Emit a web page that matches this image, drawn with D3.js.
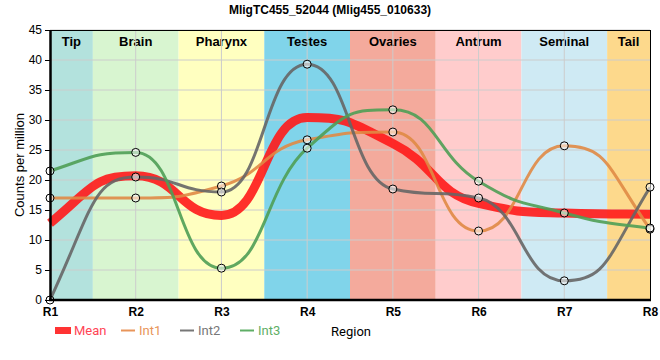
<!DOCTYPE html>
<html><head><meta charset="utf-8">
<script src="https://d3js.org/d3.v7.min.js"></script>
<style>body{margin:0;background:#fff}svg{display:block;font-family:"Liberation Sans",Arial,sans-serif}</style>
</head><body>
<svg id="c" width="660" height="360"></svg>
<script>
const categories = ["R1","R2","R3","R4","R5","R6","R7","R8"];
const regions = ["Tip","Brain","Pharynx","Testes","Ovaries","Antrum","Seminal","Tail"];
const regionColors = ["#b3e2dd","#d8f5d0","#ffffc0","#80d4ea","#f4aa9c","#ffcccc","#cfeaf4","#fdd98c"];
const meanValues = [12.8, 20.7, 14.1, 30.4, 26.1, 16.1, 14.5, 14.3];
const int1Values = [17.0, 17.0, 19.0, 26.7, 28.0, 11.5, 25.7, 11.8];
const int2Values = [0.0, 20.5, 18.0, 39.3, 18.5, 17.0, 3.2, 18.8];
const int3Values = [21.5, 24.6, 5.3, 25.3, 31.7, 19.8, 14.5, 12.0];
const yTicks = [0,5,10,15,20,25,30,35,40,45];

// monotone curve with longer bezier handles (sigmoid-like transitions)
function sgn(v){return v<0?-1:1;}
function MonoLong(context){this._context=context;}
function slope3(that,x2,y2){
  const h0=that._x1-that._x0,h1=x2-that._x1,
    s0=(that._y1-that._y0)/h0, s1=(y2-that._y1)/h1,
    p=(s0*h1+s1*h0)/(h0+h1);
  return (sgn(s0)+sgn(s1))*Math.min(Math.abs(s0),Math.abs(s1),0.5*Math.abs(p))||0;
}
function slope2(that,t){const h=that._x1-that._x0;return h?(3*(that._y1-that._y0)/h-t)/2:t;}
function seg(that,t0,t1){
  const x0=that._x0,y0=that._y0,x1=that._x1,y1=that._y1,dx=(x1-x0)*0.5;
  that._context.bezierCurveTo(x0+dx,y0+dx*t0,x1-dx,y1-dx*t1,x1,y1);
}
MonoLong.prototype={
  areaStart(){this._line=0;},areaEnd(){this._line=NaN;},
  lineStart(){this._x0=this._x1=this._y0=this._y1=this._t0=NaN;this._point=0;},
  lineEnd(){
    switch(this._point){
      case 2:this._context.lineTo(this._x1,this._y1);break;
      case 3:seg(this,this._t0,slope2(this,this._t0));break;
    }
  },
  point(x,y){
    let t1=NaN;x=+x;y=+y;
    switch(this._point){
      case 0:this._point=1;this._context.moveTo(x,y);break;
      case 1:this._point=2;break;
      case 2:this._point=3;seg(this,slope2(this,t1=slope3(this,x,y)),t1);break;
      default:seg(this,this._t0,t1=slope3(this,x,y));break;
    }
    this._x0=this._x1;this._x1=x;this._y0=this._y1;this._y1=y;this._t0=t1;
  }
};
const curveMonoLong = ctx => new MonoLong(ctx);

const svg = d3.select("#c");
const L=50,R=650,T=30,B=300;
const x = d3.scalePoint().domain(categories).range([L,R]);
const y = d3.scaleLinear().domain([0,45]).range([B,T]);
const step = x.step();

// region bands
regions.forEach((r,i)=>{
  const cx = x(categories[i]);
  const x0 = Math.max(L, cx-step/2), x1 = Math.min(R, cx+step/2);
  svg.append("rect").attr("x",x0).attr("y",T).attr("width",x1-x0).attr("height",B-T).attr("fill",regionColors[i]);
  svg.append("text").attr("x",(x0+x1)/2).attr("y",T+16).attr("text-anchor","middle")
    .attr("font-weight","bold").attr("font-size",13).attr("fill","#000").text(r);
});

// grid
svg.append("g").selectAll("line").data(yTicks.slice(1)).join("line")
  .attr("x1",L).attr("x2",R).attr("y1",d=>y(d)).attr("y2",d=>y(d)).attr("stroke","#cccccc").attr("stroke-width",1);
svg.append("g").selectAll("line").data(categories.slice(1,-1)).join("line")
  .attr("x1",d=>x(d)).attr("x2",d=>x(d)).attr("y1",T).attr("y2",B).attr("stroke","#cccccc").attr("stroke-width",1);

// frame
svg.append("line").attr("x1",L).attr("x2",R).attr("y1",T+0.5).attr("y2",T+0.5).attr("stroke","#000");
svg.append("line").attr("x1",R+0.5).attr("x2",R+0.5).attr("y1",T).attr("y2",B).attr("stroke","#000");

// lines
const line = d3.line().x((d,i)=>x(categories[i])).y(d=>y(d)).curve(curveMonoLong);
const series = [
  {name:"Int1", vals:int1Values, color:"#e08a45", w:3, op:0.9},
  {name:"Int2", vals:int2Values, color:"#666666", w:3, op:0.9},
  {name:"Int3", vals:int3Values, color:"#4f9e55", w:3, op:0.9},
];
svg.append("path").attr("d",line(meanValues)).attr("fill","none").attr("stroke","#ff1a1a")
  .attr("stroke-width",9).attr("stroke-opacity",0.9);
series.forEach(s=>{
  svg.append("path").attr("d",line(s.vals)).attr("fill","none").attr("stroke",s.color)
    .attr("stroke-width",s.w).attr("stroke-opacity",s.op);
});
series.forEach(s=>{
  svg.append("g").selectAll("circle").data(s.vals).join("circle")
    .attr("cx",(d,i)=>x(categories[i])).attr("cy",d=>y(d)).attr("r",4)
    .attr("fill","rgba(255,255,255,0.55)").attr("stroke","#000").attr("stroke-width",1);
});

// axes
const ya = svg.append("g").attr("transform",`translate(${L},0)`)
  .call(d3.axisLeft(y).tickValues(yTicks).tickSize(5).tickSizeOuter(0));
ya.select(".domain").attr("stroke-width",2.5);
ya.selectAll("text").attr("font-size",12).attr("fill","#000").attr("font-family","Liberation Sans, Arial, sans-serif");
const xa = svg.append("g").attr("transform",`translate(0,${B})`)
  .call(d3.axisBottom(x).tickSize(0).tickSizeOuter(0));
xa.select(".domain").attr("stroke-width",2.5).attr("d",`M${L-1},0H${R+1}`);
xa.selectAll("text").attr("font-size",12).attr("font-weight","bold").attr("fill","#000").attr("dy","1.1em")
  .attr("font-family","Liberation Sans, Arial, sans-serif");

// title
svg.append("text").attr("x",330).attr("y",14).attr("text-anchor","middle").attr("font-weight","bold")
  .attr("font-size",12).text("MligTC455_52044 (Mlig455_010633)");
// y label
svg.append("text").attr("transform","translate(24,165) rotate(-90)").attr("text-anchor","middle")
  .attr("font-size",13).text("Counts per million");

// legend
const lg = svg.append("g").attr("font-size",13).attr("font-family","Roboto, sans-serif");
lg.append("rect").attr("x",55).attr("y",327).attr("width",16).attr("height",7).attr("fill","#ff3333");
lg.append("text").attr("x",74).attr("y",335).attr("fill","#ff4455").text("Mean");
const legItems = [{n:"Int1",c:"#e8955a",x:121},{n:"Int2",c:"#777777",x:180},{n:"Int3",c:"#5fae66",x:240}];
legItems.forEach(d=>{
  lg.append("line").attr("x1",d.x).attr("x2",d.x+14).attr("y1",330.5).attr("y2",330.5).attr("stroke",d.c).attr("stroke-width",2);
  lg.append("text").attr("x",d.x+18).attr("y",335).attr("fill",d.c).text(d.n);
});
lg.append("text").attr("x",351).attr("y",336).attr("text-anchor","middle").attr("fill","#000").text("Region");
</script>
</body></html>
